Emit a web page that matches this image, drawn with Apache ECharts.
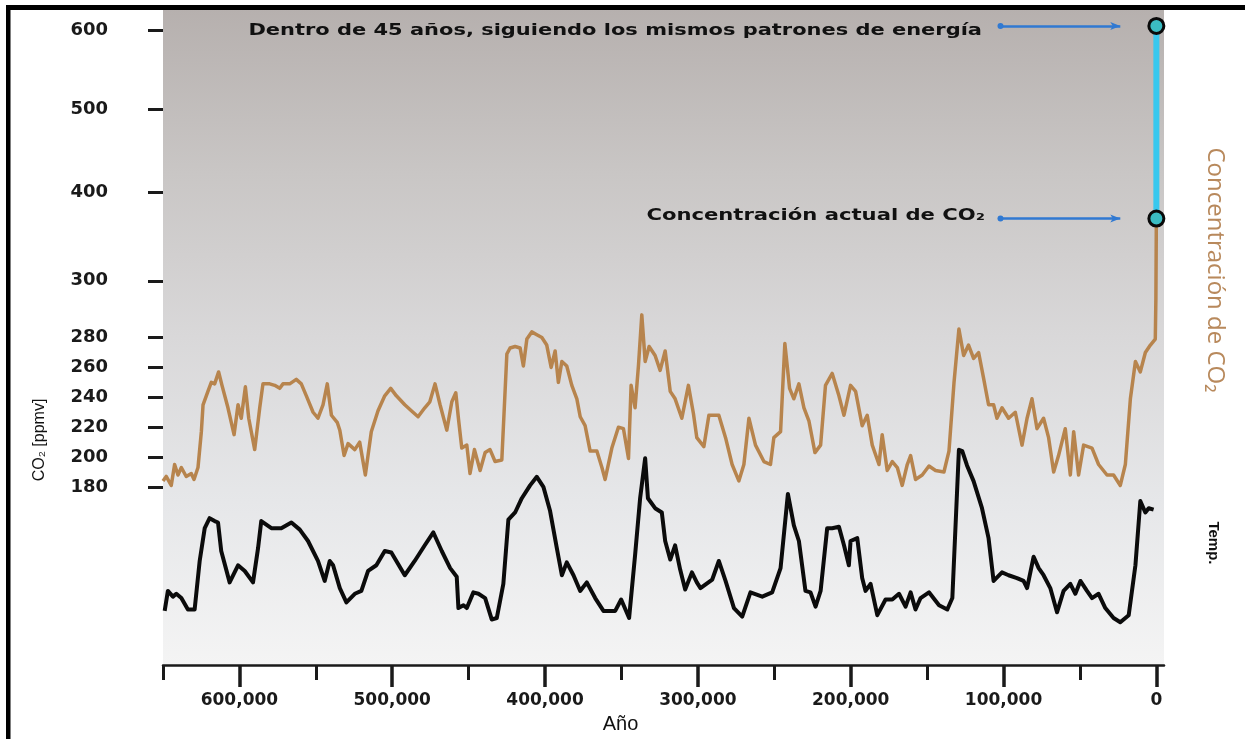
<!DOCTYPE html>
<html><head><meta charset="utf-8">
<script src="https://cdn.jsdelivr.net/npm/echarts@6/dist/echarts.min.js"></script>
<style>html,body{margin:0;padding:0;background:#fff}#c{width:1245px;height:739px}</style>
</head><body><div id="c"></div>
<script>
// ---- data (years before present, in thousands) ----
const co2YearsK = [650,647.9,644.6,642.4,640.2,638.0,634.8,631.5,629.7,627.1,624.9,623.8,620.6,618.4,616.2,613.6,611.4,607.5,603.5,600.9,598.8,596.1,593.9,590.0,586.7,584.6,580.2,576.9,573.6,571.5,567.1,562.8,559.5,556.2,551.8,548.6,545.3,542.5,539.8,535.9,534.3,531.5,528.9,524.5,521.3,517.6,513.7,509.3,504.9,501.0,497.3,491.8,487.5,483.1,478.7,475.4,472.0,468.7,464.3,461.0,458.4,456.7,454.5,451.2,449.1,446.2,442.5,439.2,436.0,432.7,428.3,425.0,422.9,419.6,416.3,414.2,411.9,408.7,405.4,402.1,398.9,396.0,393.4,391.3,389.0,385.8,382.5,379.2,377.0,373.8,370.5,366.1,362.8,360.7,356.3,352.0,348.7,345.4,343.7,341.1,338.9,336.7,334.5,331.9,328.0,324.7,321.4,318.1,314.9,310.5,306.2,302.9,300.7,296.1,292.8,286.3,281.9,277.6,273.2,269.9,266.6,262.3,256.8,252.5,250.3,245.9,243.1,240.0,237.2,233.9,230.6,227.3,223.4,219.7,216.5,212.1,207.7,204.4,200.1,196.8,192.5,189.2,185.9,181.5,179.4,176.1,172.8,169.5,166.3,163.0,160.8,157.6,153.2,148.8,144.5,139.0,135.7,132.4,129.2,126.1,122.9,119.6,116.3,113.1,109.8,106.5,104.3,101.0,96.7,92.3,87.9,84.6,81.4,78.1,73.8,70.5,67.2,64.0,59.6,56.3,54.1,50.9,47.6,42.1,37.8,32.3,28.0,23.6,20.3,17.0,13.7,10.5,7.2,3.9,0.7,0.3,0];
const co2Ppmv = [184,187,181,195,188,193,187,189,185,193,217,235,244,250,249,257,248,233,215,235,226,247,226,205,233,249,249,248,246,249,249,252,249,241,230,226,235,249,228,223,218,201,209,205,210,188,217,231,241,246,241,235,231,227,233,237,249,235,218,237,243,226,206,208,189,205,191,203,205,197,198,269,273,274,273,261,279,282,281,280,275,260,271,250,264,261,248,239,227,221,204,204,193,185,206,220,219,199,248,233,261,288,264,274,268,258,271,244,239,226,248,229,213,207,228,228,213,195,184,195,226,208,197,195,213,217,276,246,239,249,233,224,203,208,248,256,241,228,248,244,221,228,208,195,215,191,197,193,181,195,201,185,188,194,191,190,204,250,283,268,275,266,270,253,235,235,226,233,226,230,208,226,239,219,226,213,190,201,219,188,217,188,208,206,195,188,188,181,195,239,264,257,270,275,279,294,370];
const tempYearsK = [648.9,646.8,643.5,641.3,638.0,633.7,629.3,626.0,622.7,619.5,616.2,614.0,611.9,606.4,600.9,596.5,591.1,587.8,585.7,579.1,572.6,566.0,560.5,555.1,548.6,544.2,540.9,538.7,534.3,530.0,524.5,520.2,515.8,510.4,504.9,500.6,491.8,485.3,478.7,473.1,467.6,462.1,457.8,456.7,453.4,451.2,446.9,443.6,439.2,434.9,431.6,427.3,424.0,419.6,415.2,409.8,405.4,401.1,396.7,392.3,389.0,385.8,381.4,377.0,372.7,367.2,361.8,354.1,350.2,345.0,341.1,337.8,334.5,332.7,328.0,323.6,321.4,318.1,314.9,311.6,308.3,303.9,300.7,298.3,290.6,286.3,281.9,276.4,271.0,265.6,257.9,251.4,245.9,241.1,237.2,233.9,229.6,226.3,223.0,219.7,215.4,212.1,207.7,204.4,201.2,200.1,195.7,192.5,190.3,187.0,182.6,177.2,172.8,168.4,164.1,160.8,157.6,154.3,148.8,142.2,136.8,133.5,129.2,127.0,123.9,119.6,114.1,109.8,106.5,101.0,96.7,91.2,86.9,84.6,80.3,77.0,73.8,69.4,65.0,60.7,56.3,53.0,49.7,45.4,42.1,37.8,33.4,28.0,23.6,18.1,13.7,10.5,7.2,5.0,1.8];
const tempAnomaly = [-7.2,-5.8,-6.2,-6.0,-6.3,-7.1,-7.1,-3.7,-1.4,-0.7,-0.9,-1.0,-3.0,-5.2,-4.0,-4.4,-5.2,-2.8,-0.9,-1.4,-1.4,-1.0,-1.5,-2.3,-3.7,-5.1,-3.7,-4.0,-5.6,-6.6,-6.0,-5.8,-4.4,-4.0,-3.0,-3.1,-4.7,-3.7,-2.6,-1.7,-3.0,-4.2,-4.8,-7.0,-6.8,-7.0,-5.9,-6.0,-6.3,-7.8,-7.7,-5.3,-0.8,-0.3,0.7,1.6,2.2,1.5,-0.2,-2.8,-4.7,-3.8,-4.7,-5.8,-5.2,-6.3,-7.2,-7.2,-6.4,-7.7,-3.3,0.7,3.5,0.7,0.0,-0.3,-2.3,-3.6,-2.6,-4.3,-5.7,-4.5,-5.2,-5.6,-5.0,-3.7,-5.1,-7.0,-7.6,-5.9,-6.2,-5.9,-4.2,1.0,-1.2,-2.3,-5.8,-5.9,-6.9,-5.8,-1.4,-1.4,-1.3,-2.6,-4.0,-2.3,-2.1,-4.9,-5.8,-5.3,-7.5,-6.4,-6.4,-6.0,-6.9,-5.9,-7.1,-6.3,-5.9,-6.8,-7.1,-6.3,4.1,4.0,3.0,1.9,0.0,-2.1,-5.1,-4.5,-4.7,-4.9,-5.1,-5.6,-3.4,-4.2,-4.7,-5.6,-7.3,-5.8,-5.3,-6.0,-5.1,-5.8,-6.3,-6.0,-7.0,-7.7,-8.0,-7.5,-4.0,0.5,-0.3,0.0,-0.1];
const currentCo2 = 370;
const futureCo2 = 605;
const co2TickLabels = [180,200,220,240,260,280,300,400,500,600];
const xMajorTicks = [600000,500000,400000,300000,200000,100000,0];
const xMinorTicks = [650000,550000,450000,350000,250000,150000,50000];

// ---- non-linear CO2 axis scale (piecewise linear, as in the original figure) ----
const scaleIn  = [180,280,300,400,500,600];
const scaleOut = [180,280,318,377.5,432.7,486];
function pw(v, a, b){
  const n = a.length;
  let i = 0;
  if (v <= a[0]) i = 0; else if (v >= a[n-1]) i = n-2;
  else { while (!(v >= a[i] && v <= a[i+1])) i++; }
  return b[i] + (v - a[i]) * (b[i+1]-b[i]) / (a[i+1]-a[i]);
}
const toAxis = v => pw(v, scaleIn, scaleOut);
const fromAxis = u => pw(u, scaleOut, scaleIn);

const co2Data = co2YearsK.map((k,i)=>[k*1000, toAxis(co2Ppmv[i])]);
const tempData = tempYearsK.map((k,i)=>[k*1000, tempAnomaly[i]]);

const chart = echarts.init(document.getElementById('c'), null, {renderer:'canvas'});
const boldFont = 'DejaVu Sans';
const option = {
  animation:false,
  backgroundColor:'#ffffff',
  grid:{left:163, right:81, top:9, bottom:71, show:true, borderWidth:0,
    backgroundColor:{type:'linear',x:0,y:0,x2:0,y2:1,colorStops:[
      {offset:0,color:'#b6b0ae'},{offset:0.25,color:'#c9c6c5'},{offset:0.5,color:'#d9d8d9'},
      {offset:0.75,color:'#e6e7e9'},{offset:1,color:'#f4f4f4'}]}},
  xAxis:[{
    type:'value', min:-5000, max:650000, inverse:true, position:'bottom',
    name:'Año', nameLocation:'middle', nameGap:42,
    nameTextStyle:{fontFamily:'Liberation Sans', fontSize:20, color:'#111', padding:[0,86,0,0]},
    axisLine:{show:true, onZero:false, lineStyle:{color:'#1a1a1a', width:2.5}},
    axisTick:{show:true, customValues:xMajorTicks, length:22, lineStyle:{color:'#1a1a1a', width:3.5}},
    axisLabel:{show:true, customValues:xMajorTicks, margin:27, fontFamily:boldFont, fontWeight:'bold', fontSize:17, color:'#1a1a1a',
      formatter:v=>v.toLocaleString('en-US')},
    splitLine:{show:false}
  },{
    type:'value', min:-5000, max:650000, inverse:true, position:'bottom', offset:0,
    axisLine:{show:false, onZero:false},
    axisTick:{show:true, customValues:xMinorTicks, length:15, lineStyle:{color:'#1a1a1a', width:3}},
    axisLabel:{show:false}, splitLine:{show:false}
  }],
  yAxis:[{
    type:'value', min:60.7, max:500, position:'left',
    axisLine:{show:false, onZero:false},
    axisTick:{show:true, customValues:co2TickLabels.map(toAxis), length:15, lineStyle:{color:'#1a1a1a', width:3}},
    axisLabel:{show:true, customValues:co2TickLabels.map(toAxis), margin:55, fontFamily:boldFont, fontWeight:'bold', fontSize:18, color:'#1a1a1a',
      formatter:v=>String(Math.round(fromAxis(v)))},
    splitLine:{show:false}
  },{
    type:'value', min:-11, max:35, show:false, axisLine:{onZero:false}, splitLine:{show:false}
  }],
  series:[
    {name:'Temp.', type:'line', xAxisIndex:0, yAxisIndex:1, data:tempData, showSymbol:false, z:2,
      lineStyle:{color:'#0b0b0b', width:4, join:'round'}},
    {name:'CO2', type:'line', xAxisIndex:0, yAxisIndex:0, data:co2Data, showSymbol:false, z:3,
      lineStyle:{color:'#b7844d', width:3.5, join:'round'}},
    {name:'Proyección', type:'line', xAxisIndex:0, yAxisIndex:0, z:5,
      data:[[0,toAxis(currentCo2)],[0,toAxis(futureCo2)]],
      symbol:'circle', symbolSize:15, showSymbol:true,
      lineStyle:{color:'#38c8ee', width:6},
      itemStyle:{color:'#3bbcc2', borderColor:'#0a0a0a', borderWidth:3},
      markLine:{silent:true, symbol:['circle','arrow'], symbolSize:[6,10], animation:false,
        label:{show:false},
        lineStyle:{color:'#3079d2', width:2.5, type:'solid'},
        data:[
          [{coord:[102000,toAxis(futureCo2)]},{coord:[23600,toAxis(futureCo2)]}],
          [{coord:[102000,toAxis(currentCo2)]},{coord:[23600,toAxis(currentCo2)]}]
        ]}
    }
  ],
  graphic:[
    {type:'rect', shape:{x:6,y:5,width:1239,height:5}, style:{fill:'#000'}, z:100},
    {type:'rect', shape:{x:6,y:5,width:4.5,height:734}, style:{fill:'#000'}, z:100},
    {type:'text', x:982, y:31, scaleX:1.31, z:100,
      style:{text:'Dentro de 45 años, siguiendo los mismos patrones de energía', font:'bold 16px "DejaVu Sans"', fill:'#111', textAlign:'right', textVerticalAlign:'middle'}},
    {type:'text', x:985, y:216, scaleX:1.32, z:100,
      style:{text:'Concentración actual de CO₂', font:'bold 16px "DejaVu Sans"', fill:'#111', textAlign:'right', textVerticalAlign:'middle'}},
    {type:'text', x:40, y:440, rotation:Math.PI/2, z:100,
      style:{text:'CO₂ [ppmv]', font:'16px "Liberation Sans", "DejaVu Sans"', fill:'#111', textAlign:'center', textVerticalAlign:'middle'}},
    {type:'text', x:1215, y:270, rotation:-Math.PI/2, z:100,
      style:{text:'Concentración de CO₂', font:'24px "Open Sans"', fill:'#b8895c', textAlign:'center', textVerticalAlign:'middle'}},
    {type:'text', x:1213, y:543, rotation:-Math.PI/2, z:100,
      style:{text:'Temp.', font:'bold 15px "Liberation Sans"', fill:'#111', textAlign:'center', textVerticalAlign:'middle'}}
  ]
};
chart.setOption(option);
</script>
</body></html>
